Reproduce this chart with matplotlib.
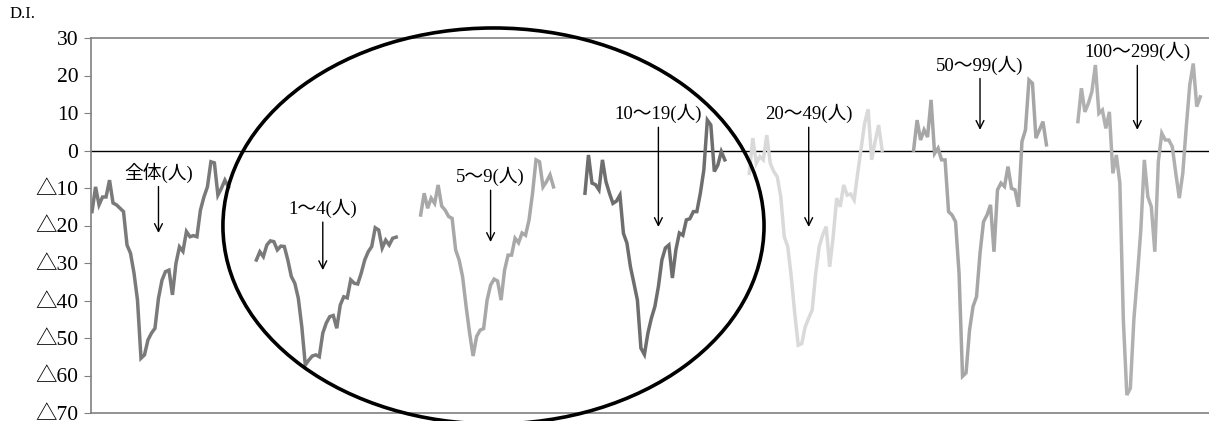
import matplotlib.pyplot as plt
from matplotlib.patches import Ellipse

# D.I. by company size
labels = ["全体(人)", "1～4(人)", "5～9(人)", "10～19(人)",
          "20～49(人)", "50～99(人)", "100～299(人)"]

zentai = [-16.3, -9.7, -14.5, -12.4, -12.4, -7.9, -14.0, -14.5, -15.4, -16.3,
          -25.2, -27.4, -32.7, -39.9, -55.4, -54.5, -50.5, -48.7, -47.4, -39.4,
          -34.6, -32.3, -31.9, -38.5, -30.1, -25.7, -26.9, -21.6, -23.0, -22.7,
          -23.0, -15.9, -12.4, -9.7, -3.0, -3.3, -11.9, -10.1, -7.9, -9.7]
s1_4 = [-29.2, -27.0, -28.3, -25.2, -24.1, -24.3, -26.5, -25.5, -25.6, -29.2,
        -33.6, -35.4, -39.4, -47.0, -57.2, -55.9, -54.8, -54.5, -55.0, -48.7,
        -46.0, -44.3, -44.0, -47.4, -41.2, -39.0, -39.3, -34.5, -35.4, -35.6,
        -32.7, -29.2, -27.0, -25.6, -20.6, -21.2, -26.0, -23.9, -25.2, -23.4,
        -23.1]
s5_9 = [-17.2, -11.4, -15.4, -12.7, -14.1, -9.2, -14.8, -15.9, -17.6, -18.1,
        -26.5, -29.2, -33.7, -41.6, -48.7, -54.8, -49.6, -47.9, -47.5, -39.9,
        -35.9, -34.3, -34.8, -39.9, -31.9, -27.9, -27.9, -23.4, -24.6, -22.0,
        -22.6, -18.5, -11.4, -2.5, -3.0, -9.7, -8.3, -6.5, -9.7]
s10_19 = [-11.4, -1.2, -8.7, -9.1, -10.5, -2.5, -8.3, -11.4, -14.1, -13.5,
          -11.9, -22.1, -24.7, -31.0, -35.4, -39.9, -52.7, -54.4, -48.7, -44.7,
          -41.6, -36.3, -29.2, -26.0, -25.2, -34.0, -26.5, -22.0, -22.6, -18.5,
          -18.2, -16.3, -16.3, -11.4, -5.2, 8.1, 6.8, -5.6, -3.9, -0.3, -2.5]
s20_49 = [-6.1, 3.3, -3.4, -1.6, -2.5, 4.1, -3.4, -5.6, -7.0, -12.3,
          -23.0, -25.6, -33.6, -43.4, -51.9, -51.5, -47.0, -44.7, -42.5, -32.7,
          -25.6, -22.5, -20.3, -31.0, -23.0, -12.7, -15.0, -9.2, -11.9, -11.6,
          -13.2, -6.1, 0.6, 7.3, 11.0, -2.5, 2.4, 6.8, 0.1]
s50_99 = [0.1, 8.1, 2.8, 5.5, 3.6, 13.5, -0.8, 0.6, -2.5, -2.5,
          -16.3, -17.2, -19.0, -32.7, -60.2, -59.3, -47.9, -41.6, -39.0, -27.4,
          -19.0, -17.2, -14.5, -27.0, -10.5, -8.7, -9.6, -4.3, -10.1, -10.5,
          -15.0, 2.4, 5.5, 18.8, 17.9, 3.3, 5.5, 7.7, 1.5]
s100_299 = [7.7, 16.6, 10.3, 12.6, 15.7, 22.8, 9.9, 10.8, 5.9, 10.3,
            -6.1, -1.2, -8.7, -45.2, -65.2, -63.4, -45.2, -33.6, -21.2, -2.5,
            -12.3, -15.0, -27.0, -3.0, 4.6, 2.8, 2.8, 1.0, -6.1, -12.7,
            -6.1, 6.3, 17.5, 23.2, 11.7, 14.3]

series = [zentai, s1_4, s5_9, s10_19, s20_49, s50_99, s100_299]
colors = ["#7a7a7a", "#7a7a7a", "#a8a8a8", "#6e6e6e", "#d9d9d9", "#a6a6a6", "#b0b0b0"]

yticks = [30, 20, 10, 0, -10, -20, -30, -40, -50, -60, -70]
ytick_labels = [str(v) if v >= 0 else "△" + str(-v) for v in yticks]

# where the label text sits and where its arrow points (x offset in block, y values)
label_pos = [(19, -6.0, -22.0), (19, -15.5, -31.9), (20, -7.0, -24.4), (21, 9.8, -20.4),
             (17, 9.8, -20.4), (19, 22.8, 5.5), (17, 26.3, 5.5)]

BLOCK = 47
serif = ["Liberation Serif", "Noto Sans CJK JP"]

fig = plt.figure(figsize=(12.09, 4.21), dpi=100)
ax = fig.add_axes([91 / 1209, 8 / 421, 1118 / 1209, 375 / 421])

for k, (vals, c) in enumerate(zip(series, colors)):
    xs = [k * BLOCK + i for i in range(len(vals))]
    ax.plot(xs, vals, color=c, lw=2.5, solid_joinstyle="miter", zorder=2)

ax.axhline(0, color="black", lw=1.0, zorder=1)

for k, (lab, (dx, ty, ay)) in enumerate(zip(labels, label_pos)):
    x = k * BLOCK + dx
    ax.text(x, ty, lab, ha="center", va="center", fontsize=13.5, family=serif)
    ax.annotate("", xy=(x, ay), xytext=(x, ty - 3.6),
                arrowprops=dict(arrowstyle="->", color="black", lw=1.0,
                                mutation_scale=14, shrinkA=0, shrinkB=0))

ax.set_xlim(-0.3, 319.5)
ax.set_ylim(-70, 30)
ax.set_yticks(yticks)
ax.set_yticklabels(ytick_labels, family=serif, fontsize=15.5)
ax.set_xticks([])
ax.tick_params(axis="y", direction="out", length=5, color="#808080", pad=4)
for side in ["left", "top", "bottom"]:
    ax.spines[side].set_color("#808080")
    ax.spines[side].set_linewidth(1.2)
ax.spines["right"].set_visible(False)

fig.text(10 / 1209, 1 - 14 / 421, "D.I.", fontsize=12, family=serif, va="center", ha="left")

ell = Ellipse((0.360, 0.4987), 0.484, 1.056, transform=ax.transAxes, fill=False,
              edgecolor="black", lw=2.6, clip_on=False, zorder=3)
ax.add_patch(ell)

fig.savefig("out.png", dpi=100)
